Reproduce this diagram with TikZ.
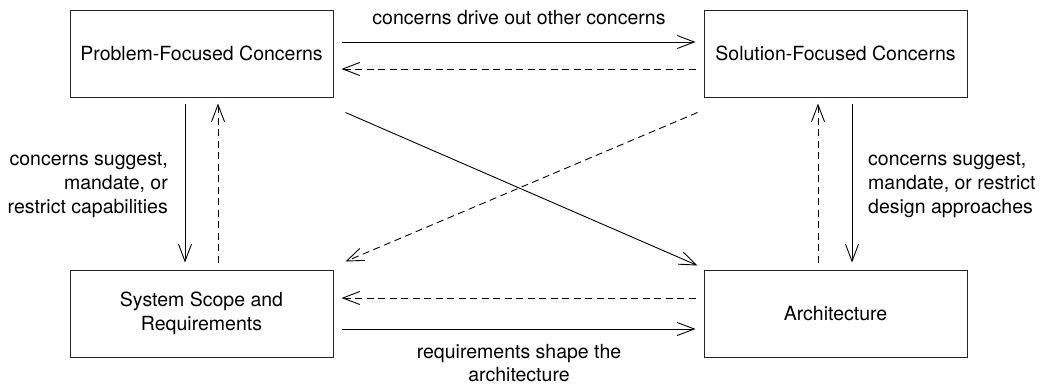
\documentclass[tikz,border=0pt]{standalone}
\usepackage{fontspec}
\setmainfont{TeX Gyre Heros}
\usetikzlibrary{arrows.meta}
\begin{document}
\begin{tikzpicture}[x=1pt,y=-1pt,
  font=\fontsize{19.5}{24}\selectfont,
  box/.style={draw=black!85, line width=1pt, minimum width=263pt, minimum height=87pt, inner sep=0pt, align=center},
  conn/.style={line width=0.9pt, -{Straight Barb[length=17pt,width=13pt,line width=0.9pt]}},
  back/.style={conn, dash pattern=on 7pt off 4.5pt},
  lbl/.style={inner sep=0pt}]
  \useasboundingbox (0,0) rectangle (1046,386);
  % the four boxes
  \node[box] (pfc) at (201.5,53.5) {Problem-Focused Concerns};
  \node[box] (sfc) at (835.5,53.5) {Solution-Focused Concerns};
  \node[box] (ssr) at (201.5,313.5) {System Scope and\\Requirements};
  \node[box] (arc) at (835.5,313.5) {Architecture};
  % horizontal connectors
  \draw[conn] ([xshift=8pt]pfc.east |- 0,42) -- ([xshift=-8pt]sfc.west |- 0,42);
  \draw[back] ([xshift=-8pt]sfc.west |- 0,69) -- ([xshift=8pt]pfc.east |- 0,69);
  \draw[back] ([xshift=-8pt]arc.west |- 0,298) -- ([xshift=8pt]ssr.east |- 0,298);
  \draw[conn] ([xshift=8pt]ssr.east |- 0,329) -- ([xshift=-8pt]arc.west |- 0,329);
  % vertical connectors
  \draw[conn] ([yshift=-6pt]pfc.south -| 185,0) -- ([yshift=7pt]ssr.north -| 185,0);
  \draw[back] ([yshift=7pt]ssr.north -| 218,0) -- ([yshift=-6pt]pfc.south -| 218,0);
  \draw[back] ([yshift=7pt]arc.north -| 818,0) -- ([yshift=-6pt]sfc.south -| 818,0);
  \draw[conn] ([yshift=-6pt]sfc.south -| 852,0) -- ([yshift=7pt]arc.north -| 852,0);
  % diagonal connectors
  \draw[conn] ([xshift=12pt,yshift=-15pt]pfc.south east) -- ([xshift=-6pt,yshift=4pt]arc.north west);
  \draw[back] ([xshift=-6pt,yshift=-15pt]sfc.south west) -- ([xshift=12pt,yshift=8pt]ssr.north east);
  % labels
  \node[lbl] (l1) at (519,18) {concerns drive out other concerns};
  \node[lbl, align=right, anchor=east] (l2) at (168,185) {concerns suggest,\\mandate, or\\restrict capabilities};
  \node[lbl, align=left, anchor=west] (l3) at (868,185) {concerns suggest,\\mandate, or restrict\\design approaches};
  \node[lbl, align=center, font=\fontsize{19.5}{22.5}\selectfont] (l4) at (519,363) {requirements shape the\\architecture};
\end{tikzpicture}
\end{document}
